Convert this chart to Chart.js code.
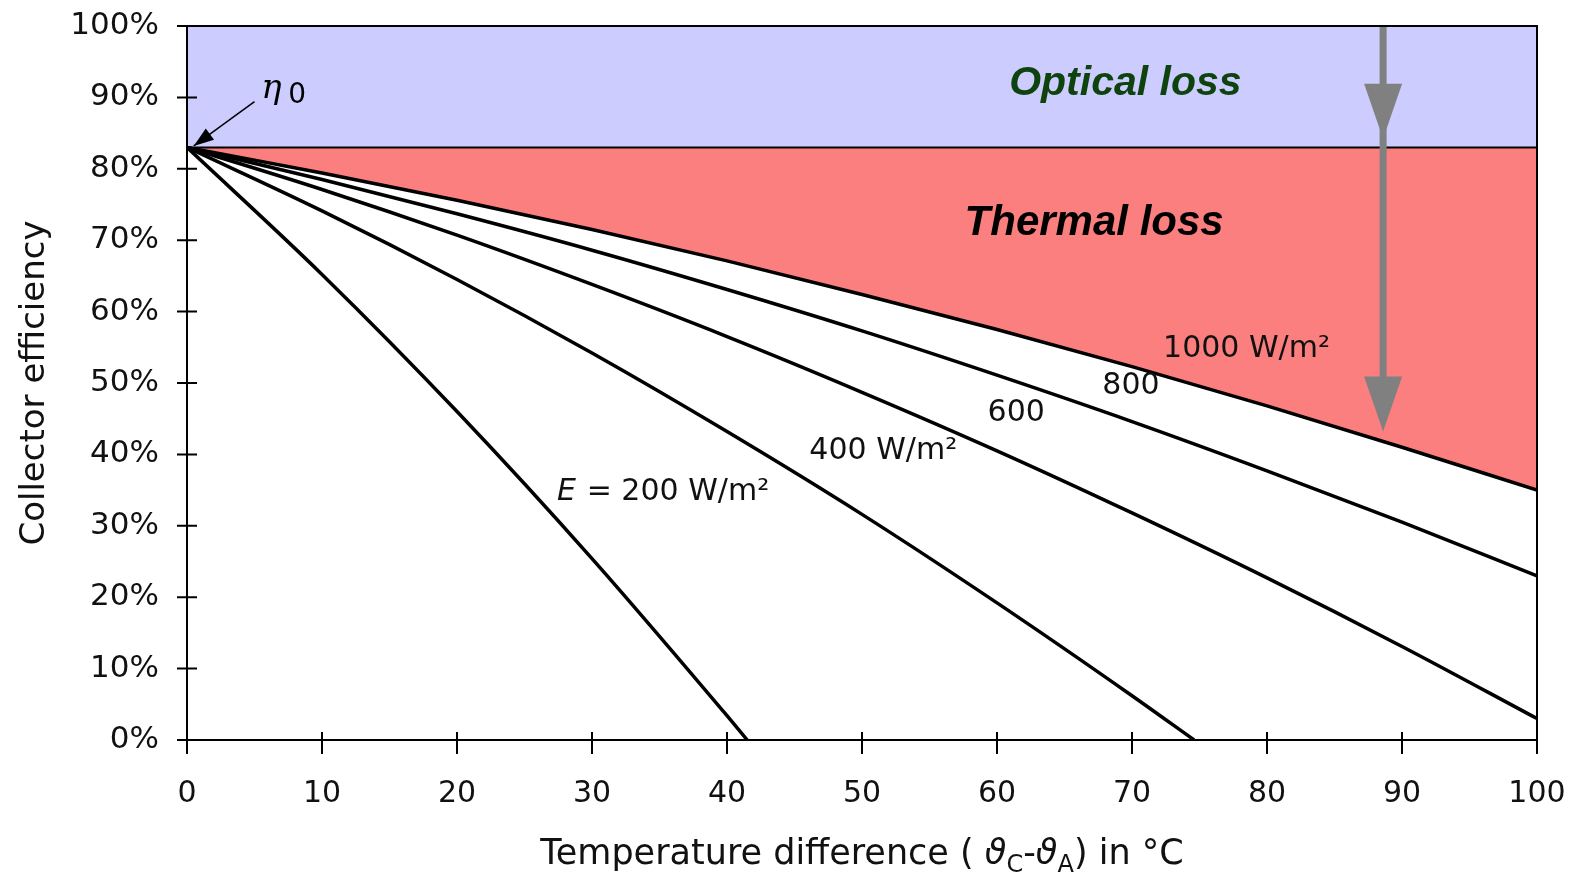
<!DOCTYPE html>
<html>
<head>
<meta charset="utf-8">
<script src="https://cdn.jsdelivr.net/npm/chart.js@4.4.0/dist/chart.umd.min.js"></script>
<style>
  html, body { margin: 0; padding: 0; background: #fff; }
  #wrap { width: 1572px; height: 877px; }
</style>
</head>
<body>
<div id="wrap"><canvas id="effChart"></canvas></div>
<script>
// temperature difference (°C) and efficiency (%)
const tempSteps = [0, 10, 20, 30, 40, 50, 60, 70, 80, 90, 100];
const eff1000 = [83, 79.4, 75.6, 71.5, 67.1, 62.4, 57.5, 52.3, 46.8, 41.0, 35.0];
const eff800 = [83, 78.5, 73.7, 68.6, 63.1, 57.3, 51.1, 44.6, 37.7, 30.5, 23.0];
const eff600 = [83, 77.1, 70.7, 63.8, 56.5, 48.7, 40.5, 31.8, 22.7, 13.1, 3.0];
const temp400 = [0, 10, 20, 30, 40, 50, 60, 70, 74.6];
const eff400 = [83, 74.1, 64.5, 54.2, 43.2, 31.6, 19.2, 6.2, 0];
const temp200 = [0, 10, 20, 30, 40, 41.5];
const eff200 = [83, 65.2, 46.0, 25.4, 3.4, 0];
const opticalEff = 83;      // eta 0
const maxEff = 100;
const xTicks = [0, 10, 20, 30, 40, 50, 60, 70, 80, 90, 100];
const yTicks = [0, 10, 20, 30, 40, 50, 60, 70, 80, 90, 100];

const pts = (xs, ys) => xs.map((v, i) => ({ x: v, y: ys[i] }));
const flat = (val) => tempSteps.map(t => ({ x: t, y: val }));

const SANS = '"DejaVu Sans", sans-serif';
const ARIAL = '"Liberation Sans", Arial, sans-serif';

// text placed in data coordinates (x = °C, y = %)
const notes = [
  { text: 'Optical loss', x: 60.9, y: 91.9, font: 'italic bold 41px ' + ARIAL, color: '#0e430e' },
  { text: 'Thermal loss', x: 57.6, y: 72.3, font: 'italic bold 42px ' + ARIAL, color: '#000' },
  { text: '1000 W/m²', x: 72.3, y: 54.8, font: '30px ' + SANS, color: '#111' },
  { text: '800', x: 67.8, y: 49.6, font: '30px ' + SANS, color: '#111' },
  { text: '600', x: 59.3, y: 45.8, font: '30px ' + SANS, color: '#111' },
  { text: '400 W/m²', x: 46.1, y: 40.5, font: '30px ' + SANS, color: '#111' },
  { text: ' = 200 W/m²', x: 28.9, y: 34.7, font: '30px ' + SANS, color: '#111' },
  { text: 'E', x: 27.4, y: 34.7, font: 'italic 30px ' + SANS, color: '#111' }
];

const overlay = {
  id: 'overlay',
  afterDatasetsDraw(chart) {
    const { ctx, chartArea: a, scales: { x, y } } = chart;
    ctx.save();

    // gray arrow for the losses
    const ax = x.getPixelForValue(88.6);
    const tips = [84.2, 43.2].map(v => y.getPixelForValue(v));
    ctx.strokeStyle = '#808080';
    ctx.fillStyle = '#808080';
    ctx.lineWidth = 7;
    ctx.beginPath();
    ctx.moveTo(ax, y.getPixelForValue(maxEff));
    ctx.lineTo(ax, tips[1] - 40);
    ctx.stroke();
    tips.forEach(t => {
      ctx.beginPath();
      ctx.moveTo(ax - 19, t - 55);
      ctx.lineTo(ax + 19, t - 55);
      ctx.lineTo(ax, t);
      ctx.closePath();
      ctx.fill();
    });

    // frame and crossing ticks
    ctx.strokeStyle = '#000';
    ctx.lineWidth = 2;
    ctx.strokeRect(a.left, a.top, a.right - a.left, a.bottom - a.top);
    ctx.beginPath();
    x.ticks.forEach(t => {
      const px = x.getPixelForValue(t.value);
      ctx.moveTo(px, a.bottom - 8);
      ctx.lineTo(px, a.bottom + 14);
    });
    y.ticks.forEach(t => {
      const py = y.getPixelForValue(t.value);
      ctx.moveTo(a.left - 10, py);
      ctx.lineTo(a.left + 10, py);
    });
    ctx.stroke();

    // eta 0 pointer
    const e0x = x.getPixelForValue(0.5), e0y = y.getPixelForValue(opticalEff + 0.2);
    const sx = x.getPixelForValue(5.0), sy = y.getPixelForValue(89.4);
    ctx.lineWidth = 1.5;
    ctx.beginPath();
    ctx.moveTo(sx, sy);
    ctx.lineTo(e0x, e0y);
    ctx.stroke();
    const ang = Math.atan2(e0y - sy, e0x - sx);
    ctx.beginPath();
    ctx.moveTo(e0x, e0y);
    ctx.lineTo(e0x - 20 * Math.cos(ang) + 7 * Math.sin(ang), e0y - 20 * Math.sin(ang) - 7 * Math.cos(ang));
    ctx.lineTo(e0x - 20 * Math.cos(ang) - 7 * Math.sin(ang), e0y - 20 * Math.sin(ang) + 7 * Math.cos(ang));
    ctx.closePath();
    ctx.fillStyle = '#000';
    ctx.fill();
    ctx.textBaseline = 'middle';
    ctx.textAlign = 'left';
    ctx.font = 'italic 34px "DejaVu Serif", serif';
    ctx.fillText('η', x.getPixelForValue(5.5), y.getPixelForValue(91.2));
    ctx.font = '28px ' + SANS;
    ctx.fillText('0', x.getPixelForValue(7.5), y.getPixelForValue(90.2));

    // curve labels
    notes.forEach(n => {
      ctx.font = n.font;
      ctx.fillStyle = n.color;
      ctx.fillText(n.text, x.getPixelForValue(n.x), y.getPixelForValue(n.y));
    });

    // x axis title with subscripts
    const parts = [
      { t: 'Temperature difference ( ', f: '35px ' + SANS, dy: 0 },
      { t: 'ϑ', f: 'italic 35px ' + SANS, dy: 0 },
      { t: 'C', f: '24px ' + SANS, dy: 8 },
      { t: '-', f: '35px ' + SANS, dy: 0 },
      { t: 'ϑ', f: 'italic 35px ' + SANS, dy: 0 },
      { t: 'A', f: '24px ' + SANS, dy: 8 },
      { t: ') in °C', f: '35px ' + SANS, dy: 0 }
    ];
    ctx.fillStyle = '#111';
    ctx.textBaseline = 'alphabetic';
    let total = 0;
    parts.forEach(p => { ctx.font = p.f; p.w = ctx.measureText(p.t).width; total += p.w; });
    let cx = (a.left + a.right) / 2 - total / 2;
    parts.forEach(p => {
      ctx.font = p.f;
      ctx.fillText(p.t, cx, 864 + p.dy);
      cx += p.w;
    });
    ctx.restore();
  }
};

const curve = (label, data) => ({
  label, data,
  borderColor: '#000', borderWidth: 3.5, pointRadius: 0,
  cubicInterpolationMode: 'monotone', fill: false
});

new Chart(document.getElementById('effChart'), {
  type: 'line',
  data: {
    datasets: [
      { label: 'Optical loss', data: flat(maxEff), borderWidth: 0, pointRadius: 0,
        fill: { target: 1 }, backgroundColor: '#ccccff' },
      { label: 'eta 0', data: flat(opticalEff), borderColor: '#000', borderWidth: 2, pointRadius: 0,
        fill: { target: 2 }, backgroundColor: '#fb7f7f' },
      curve('1000 W/m²', pts(tempSteps, eff1000)),
      curve('800 W/m²', pts(tempSteps, eff800)),
      curve('600 W/m²', pts(tempSteps, eff600)),
      curve('400 W/m²', pts(temp400, eff400)),
      curve('200 W/m²', pts(temp200, eff200))
    ]
  },
  options: {
    responsive: true,
    maintainAspectRatio: false,
    animation: false,
    layout: { padding: { top: 26, right: 35, left: 0, bottom: 0 } },
    plugins: {
      legend: { display: false },
      tooltip: { enabled: false },
      filler: { drawTime: 'beforeDatasetsDraw' }
    },
    scales: {
      x: {
        type: 'linear', min: 0, max: 100,
        afterBuildTicks: s => { s.ticks = xTicks.map(v => ({ value: v })); },
        afterFit: s => { s.height = 137; s.paddingLeft = 0; s.paddingRight = 0; },
        grid: { display: false },
        border: { display: false },
        ticks: { padding: 28, color: '#111', font: { family: SANS, size: 30 } }
      },
      y: {
        min: 0, max: 100,
        afterBuildTicks: s => { s.ticks = yTicks.map(v => ({ value: v })); },
        afterFit: s => { s.width = 187; s.paddingTop = 0; s.paddingBottom = 0; },
        grid: { display: false },
        border: { display: false },
        ticks: { padding: 20, color: '#111', font: { family: SANS, size: 31 }, callback: v => v + '%' },
        title: { display: true, text: 'Collector efficiency', color: '#111',
          font: { family: SANS, size: 34 }, padding: { top: 15, bottom: 0 } }
      }
    }
  },
  plugins: [overlay]
});
</script>
</body>
</html>
